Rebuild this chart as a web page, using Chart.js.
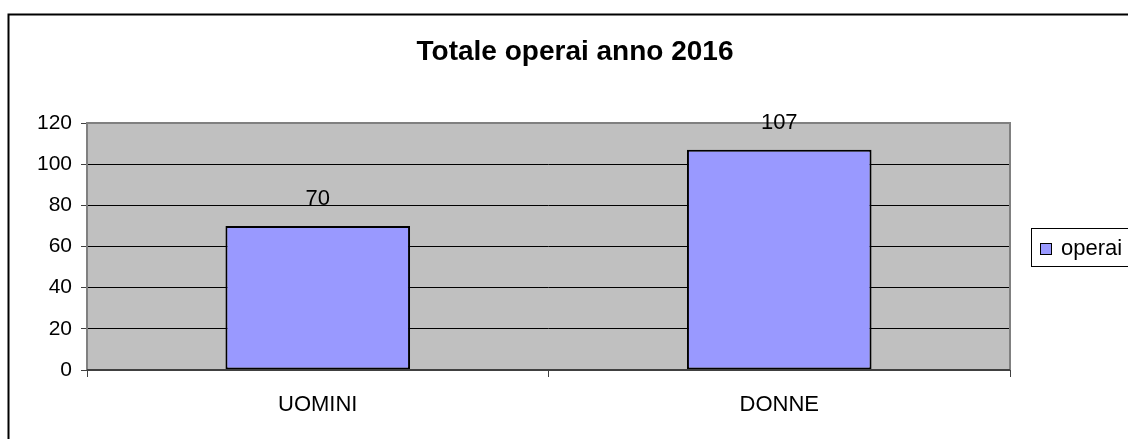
<!DOCTYPE html>
<html>
<head>
<meta charset="utf-8">
<script src="https://cdn.jsdelivr.net/npm/chart.js@4/dist/chart.umd.min.js"></script>
<style>
  html, body { margin: 0; padding: 0; background: #fff; }
  #wrap { width: 1128px; height: 439px; }
</style>
</head>
<body>
<div id="wrap"><canvas id="c" width="1128" height="439"></canvas></div>
<script>
const titleText = 'Totale operai anno 2016';
const categories = ['UOMINI', 'DONNE'];
const seriesName = 'operai';
const operai = [70, 107];
const yTicks = [0, 20, 40, 60, 80, 100, 120];

const FONT = '"Liberation Sans", Arial, sans-serif';
const BAR_FILL = '#9999FF';

const decor = {
  id: 'decor',
  beforeDraw(chart) {
    const { ctx, chartArea: a } = chart;
    ctx.save();
    ctx.fillStyle = '#fff';
    ctx.fillRect(0, 0, chart.width, chart.height);
    ctx.fillStyle = '#C0C0C0';
    ctx.fillRect(a.left, a.top, a.right - a.left, a.bottom - a.top);
    ctx.restore();
  },
  afterDatasetsDraw(chart) {
    const { ctx, chartArea: a } = chart;
    ctx.save();
    // plot area border
    ctx.strokeStyle = '#808080';
    ctx.lineWidth = 2;
    ctx.beginPath();
    ctx.moveTo(a.left, a.bottom);
    ctx.lineTo(a.left, a.top);
    ctx.lineTo(a.right, a.top);
    ctx.lineTo(a.right, a.bottom);
    ctx.stroke();
    ctx.strokeStyle = '#404040';
    ctx.beginPath();
    ctx.moveTo(a.left, a.bottom);
    ctx.lineTo(a.right, a.bottom);
    ctx.stroke();
    // value labels
    const meta = chart.getDatasetMeta(0);
    ctx.fillStyle = '#000';
    ctx.font = '22px ' + FONT;
    ctx.textAlign = 'center';
    ctx.textBaseline = 'middle';
    meta.data.forEach((bar, i) => {
      ctx.fillText(String(chart.data.datasets[0].data[i]), bar.x, bar.y - 27);
    });
    // outer frame (only top and left are visible in the crop)
    ctx.strokeStyle = '#000';
    ctx.lineWidth = 2;
    ctx.beginPath();
    ctx.moveTo(8.5, chart.height + 2);
    ctx.lineTo(8.5, 14.5);
    ctx.lineTo(chart.width + 2, 14.5);
    ctx.stroke();
    // legend
    ctx.lineWidth = 1;
    ctx.strokeStyle = '#000';
    ctx.strokeRect(1031.5, 228.5, 120, 38);
    ctx.fillStyle = chart.data.datasets[0].backgroundColor;
    ctx.fillRect(1040.5, 243.5, 11, 11);
    ctx.strokeRect(1040.5, 243.5, 11, 11);
    ctx.fillStyle = '#000';
    ctx.font = '22px ' + FONT;
    ctx.textAlign = 'left';
    ctx.textBaseline = 'middle';
    ctx.fillText(chart.data.datasets[0].label, 1061, 249);
    ctx.restore();
  }
};

new Chart(document.getElementById('c'), {
  type: 'bar',
  data: {
    labels: categories,
    datasets: [{
      label: seriesName,
      data: operai,
      backgroundColor: BAR_FILL,
      borderColor: '#000',
      borderWidth: 2,
      borderSkipped: false,
      barPercentage: 0.4,
      categoryPercentage: 1.0
    }]
  },
  options: {
    responsive: false,
    animation: false,
    layout: { padding: { left: 22, right: 0, top: 0, bottom: 0 } },
    plugins: {
      legend: { display: false },
      tooltip: { enabled: false },
      title: {
        display: true,
        text: titleText,
        color: '#000',
        font: { family: FONT, size: 28, weight: 'bold', lineHeight: 1.2 },
        padding: { top: 35, bottom: 54.4 }
      }
    },
    scales: {
      x: {
        grid: { offset: true, drawOnChartArea: false, drawTicks: true, tickLength: 7, color: '#404040', lineWidth: 1 },
        border: { display: false },
        ticks: { color: '#000', font: { family: FONT, size: 22 }, padding: 15 },
        afterFit(s) { s.height = 69; }
      },
      y: {
        min: 0, max: 120,
        afterBuildTicks(s) { s.ticks = yTicks.map(v => ({ value: v })); },
        grid: { color: '#000', lineWidth: 1, drawTicks: true, tickLength: 6, tickColor: '#404040' },
        border: { display: false },
        ticks: { color: '#000', font: { family: FONT, size: 21 }, padding: 9 },
        afterFit(s) { s.width = 65; }
      },
      yRight: {
        position: 'right',
        display: true,
        grid: { display: false, drawTicks: false },
        border: { display: false },
        ticks: { display: false },
        afterFit(s) { s.width = 118; }
      }
    }
  },
  plugins: [decor]
});
</script>
</body>
</html>
